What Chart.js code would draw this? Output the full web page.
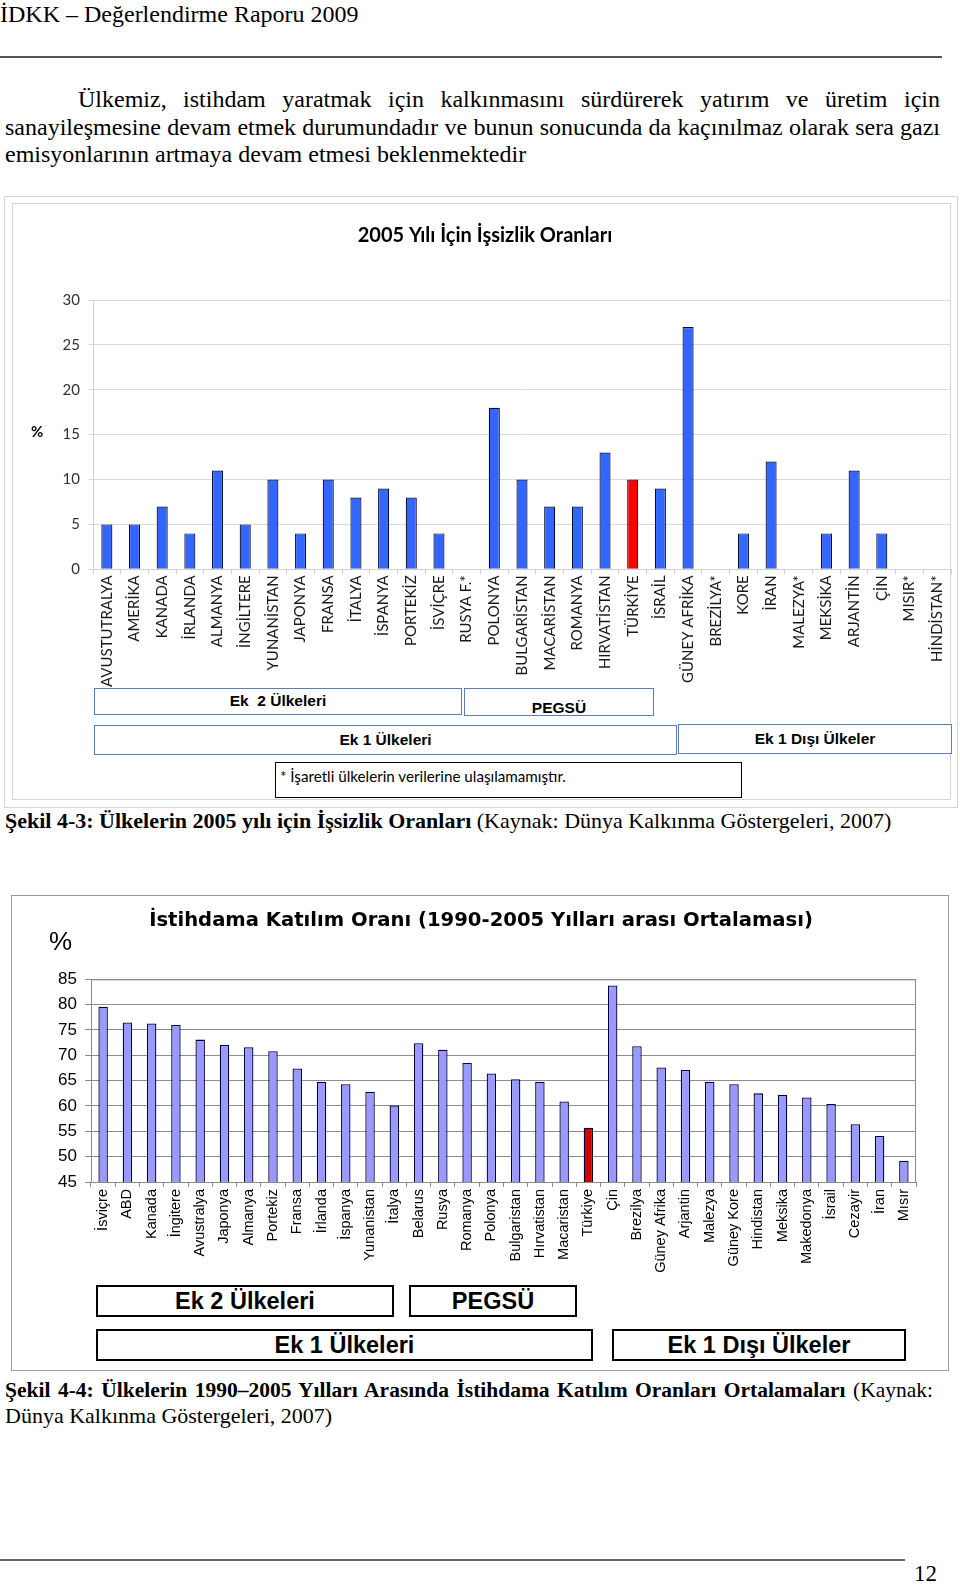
<!DOCTYPE html>
<html lang="tr">
<head>
<meta charset="UTF-8">
<title>İDKK – Değerlendirme Raporu 2009</title>
<script src="https://cdn.jsdelivr.net/npm/chart.js@4"></script>
<style>
    body { margin: 0; background: #fff; }
    #page { position: relative; width: 960px; height: 1585px; overflow: hidden; font-family: "Liberation Serif", serif; color: #000; }
    .abs { position: absolute; }
    .line { position: absolute; white-space: nowrap; }
    .just { text-align: justify; text-align-last: justify; white-space: normal; }
    .frame { position: absolute; box-sizing: border-box; }
    .box1 { position: absolute; box-sizing: border-box; border: 1.5px solid #5a7fb8; background: #fff;
            font: bold 15.5px "Liberation Sans", Arial, sans-serif; text-align: center; }
    .box2 { position: absolute; box-sizing: border-box; border: 2px solid #000; background: #fff;
            font: bold 23.5px "Liberation Sans", Arial, sans-serif; text-align: center; }
    canvas { position: absolute; left: 0; }
</style>
</head>
<body>
<div id="page">
    <div class="line" style="left:0;top:0;font-size:24px;line-height:28px;">İDKK – Değerlendirme Raporu 2009</div>
    <div class="abs" style="left:0;top:56px;width:942px;height:2px;background:#555;"></div>

    <div class="line just" style="left:78px;top:85px;width:862px;font-size:24px;line-height:28px;">Ülkemiz, istihdam yaratmak için kalkınmasını sürdürerek yatırım ve üretim için</div>
    <div class="line just" style="left:5px;top:113px;width:935px;font-size:24px;line-height:28px;">sanayileşmesine devam etmek durumundadır ve bunun sonucunda da kaçınılmaz olarak sera gazı</div>
    <div class="line" style="left:5px;top:140px;font-size:24px;line-height:28px;">emisyonlarının artmaya devam etmesi beklenmektedir</div>

    <!-- chart 1 frame -->
    <div class="frame" style="left:4px;top:196px;width:954px;height:612px;border:1px solid #d4d4d4;"></div>
    <div class="frame" style="left:12px;top:203px;width:939px;height:597px;border:1px solid #d4d4d4;"></div>
    <canvas id="chart1" width="960" height="500" style="top:200px;"></canvas>
    <div class="abs" style="left:31px;top:422px;font:bold 15px Lato, sans-serif;">%</div>

    <div class="box1" style="left:94px;top:688px;width:368px;height:27px;line-height:24px;">Ek&nbsp; 2 Ülkeleri</div>
    <div class="box1" style="left:464px;top:688px;width:190px;height:28px;line-height:38px;">PEGSÜ</div>
    <div class="box1" style="left:94px;top:725px;width:583px;height:30px;line-height:28px;">Ek 1 Ülkeleri</div>
    <div class="box1" style="left:678px;top:724px;width:274px;height:30px;line-height:28px;">Ek 1 Dışı Ülkeler</div>
    <div class="abs" style="left:275px;top:762px;width:467px;height:36px;box-sizing:border-box;border:1.5px solid #000;padding-left:4px;font:15.2px Lato, sans-serif;line-height:27px;">* İşaretli ülkelerin verilerine ulaşılamamıştır.</div>

    <div class="line" style="left:5px;top:807px;font-size:22px;line-height:28px;"><b>Şekil 4-3: Ülkelerin 2005 yılı için İşsizlik Oranları</b> (Kaynak: Dünya Kalkınma Göstergeleri, 2007)</div>

    <!-- chart 2 frame -->
    <div class="frame" style="left:11px;top:895px;width:938px;height:476px;border:1.5px solid #9a9a9a;"></div>
    <canvas id="chart2" width="960" height="410" style="top:890px;"></canvas>
    <div class="abs" style="left:49px;top:926px;font:26px 'Liberation Sans', Arial, sans-serif;">%</div>

    <div class="box2" style="left:96px;top:1285px;width:298px;height:32px;line-height:28px;">Ek 2 Ülkeleri</div>
    <div class="box2" style="left:409px;top:1285px;width:168px;height:32px;line-height:28px;">PEGSÜ</div>
    <div class="box2" style="left:96px;top:1329px;width:497px;height:32px;line-height:28px;">Ek 1 Ülkeleri</div>
    <div class="box2" style="left:612px;top:1329px;width:294px;height:32px;line-height:28px;">Ek 1 Dışı Ülkeler</div>

    <div class="line just" style="left:5px;top:1376px;width:928px;font-size:21.5px;line-height:28px;"><b>Şekil 4-4: Ülkelerin 1990–2005 Yılları Arasında İstihdama Katılım Oranları Ortalamaları</b> (Kaynak:</div>
    <div class="line" style="left:5px;top:1402px;font-size:22px;line-height:28px;">Dünya Kalkınma Göstergeleri, 2007)</div>

    <div class="abs" style="left:0;top:1559px;width:905px;height:2px;background:#666;"></div>
    <div class="line" style="left:914px;top:1560px;font-size:23px;line-height:28px;">12</div>
</div>

<script>
    // Şekil 4-3: 2005 işsizlik oranları (%)
    const countries2005 = ['AVUSTUTRALYA', 'AMERİKA', 'KANADA', 'İRLANDA', 'ALMANYA', 'İNGİLTERE', 'YUNANİSTAN',
        'JAPONYA', 'FRANSA', 'İTALYA', 'İSPANYA', 'PORTEKİZ', 'İSVİÇRE', 'RUSYA F.*', 'POLONYA', 'BULGARİSTAN',
        'MACARİSTAN', 'ROMANYA', 'HIRVATİSTAN', 'TÜRKİYE', 'İSRAİL', 'GÜNEY AFRİKA', 'BREZİLYA*', 'KORE', 'İRAN',
        'MALEZYA*', 'MEKSİKA', 'ARJANTİN', 'ÇİN', 'MISIR*', 'HİNDİSTAN*'];
    const unemployment2005 = [5, 5, 7, 4, 11, 5, 10, 4, 10, 8, 9, 8, 4, null, 18, 10, 7, 7, 13, 10, 9, 27,
        null, 4, 12, null, 4, 11, 4, null, null];
    const unemploymentTicks = [0, 30, 5]; // min, max, step

    // Şekil 4-4: istihdama katılım oranı, 1990-2005 ortalaması (%)
    const countriesPart = ['İsviçre', 'ABD', 'Kanada', 'İngitere', 'Avustralya', 'Japonya', 'Almanya', 'Portekiz',
        'Fransa', 'İrlanda', 'İspanya', 'Yunanistan', 'İtalya', 'Belarus', 'Rusya', 'Romanya', 'Polonya',
        'Bulgaristan', 'Hırvatistan', 'Macaristan', 'Türkiye', 'Çin', 'Brezilya', 'Güney Afrika', 'Arjantin',
        'Malezya', 'Güney Kore', 'Hindistan', 'Meksika', 'Makedonya', 'İsrail', 'Cezayir', 'İran', 'Mısır'];
    const participation = [79.6, 76.5, 76.3, 76.0, 73.1, 72.1, 71.6, 70.8, 67.4, 64.8, 64.3, 62.8, 60.1, 72.4,
        71.1, 68.5, 66.4, 65.3, 64.8, 60.9, 55.7, 83.8, 71.8, 67.6, 67.1, 64.8, 64.3, 62.5, 62.2, 61.7, 60.4,
        56.4, 54.1, 49.2];
    const participationTicks = [45, 85, 5];

    // plot area frame for the second chart
    const plotBorder = {
        id: 'plotBorder',
        afterDraw(chart, args, opts) {
            if (!opts.color) return;
            const a = chart.chartArea, ctx = chart.ctx;
            ctx.save();
            ctx.strokeStyle = opts.color;
            ctx.lineWidth = 1;
            ctx.strokeRect(a.left + 0.5, a.top + 0.5, a.right - a.left - 1, a.bottom - a.top);
            ctx.restore();
        }
    };

    new Chart(document.getElementById('chart1'), {
        type: 'bar',
        data: {
            labels: countries2005,
            datasets: [{
                data: unemployment2005,
                backgroundColor: countries2005.map(c => c === 'TÜRKİYE' ? '#ff0000' : '#3366ff'),
                borderColor: '#0b0b2e',
                borderWidth: 1.2,
                categoryPercentage: 0.5,
                barPercentage: 0.8
            }]
        },
        options: {
            responsive: false,
            animation: false,
            layout: { padding: { left: 19, right: 9, top: 0, bottom: 0 } },
            plugins: {
                legend: { display: false },
                tooltip: { enabled: false },
                title: {
                    display: true,
                    text: '2005 Yılı İçin İşsizlik Oranları',
                    color: '#000',
                    font: { family: 'Lato', size: 20, weight: 'bold', lineHeight: 1.2 },
                    padding: { top: 24, bottom: 52 }
                }
            },
            scales: {
                x: {
                    grid: { drawOnChartArea: false, drawTicks: true, tickLength: 5, color: '#d0d0d0' },
                    border: { color: '#d0d0d0' },
                    ticks: { autoSkip: false, minRotation: 90, maxRotation: 90, padding: 1, color: '#1a1a1a',
                             font: { family: 'Lato', size: 15 } },
                    afterFit: s => { s.height = 130.7; }
                },
                y: {
                    min: unemploymentTicks[0],
                    max: unemploymentTicks[1],
                    grid: { color: '#dadada', tickLength: 5 },
                    border: { color: '#d0d0d0' },
                    ticks: { stepSize: unemploymentTicks[2], padding: 8, color: '#333',
                             font: { family: 'Lato', size: 15 } },
                    afterFit: s => { s.width = 74; }
                }
            }
        }
    });

    new Chart(document.getElementById('chart2'), {
        type: 'bar',
        data: {
            labels: countriesPart,
            datasets: [{
                data: participation,
                backgroundColor: countriesPart.map(c => c === 'Türkiye' ? '#d40000' : '#9999ff'),
                borderColor: '#000033',
                borderWidth: 1.3,
                categoryPercentage: 0.5,
                barPercentage: 0.78
            }]
        },
        options: {
            responsive: false,
            animation: false,
            layout: { padding: { left: 46, right: 44, top: 0, bottom: 0 } },
            plugins: {
                legend: { display: false },
                tooltip: { enabled: false },
                plotBorder: { color: '#8c8c8c' },
                title: {
                    display: true,
                    text: 'İstihdama Katılım Oranı (1990-2005 Yılları arası Ortalaması)',
                    color: '#000',
                    font: { family: 'DejaVu Sans', size: 19.6, weight: 'bold', lineHeight: 1.2 },
                    padding: { top: 19.3, bottom: 46.5 }
                }
            },
            scales: {
                x: {
                    grid: { drawOnChartArea: false, drawTicks: true, tickLength: 5, color: '#8c8c8c' },
                    border: { color: '#8c8c8c' },
                    ticks: { autoSkip: false, minRotation: 90, maxRotation: 90, padding: 2, color: '#000',
                             font: { family: 'Liberation Sans', size: 14.5 } },
                    afterFit: s => { s.height = 118; }
                },
                y: {
                    min: participationTicks[0],
                    max: participationTicks[1],
                    grid: { color: '#8c8c8c', tickLength: 6 },
                    border: { color: '#8c8c8c' },
                    ticks: { stepSize: participationTicks[2], padding: 8, color: '#000',
                             font: { family: 'Liberation Sans', size: 17 } },
                    afterFit: s => { s.width = 45; }
                }
            }
        },
        plugins: [plotBorder]
    });
</script>
</body>
</html>
